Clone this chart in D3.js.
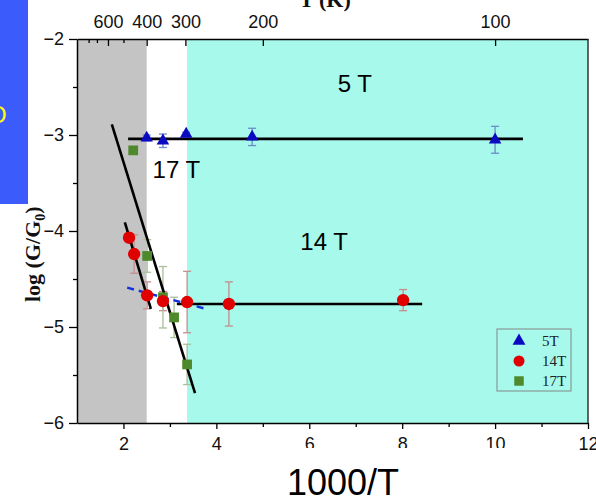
<!DOCTYPE html>
<html><head><meta charset="utf-8">
<script src="https://cdn.jsdelivr.net/npm/d3@7"></script>
<style>body{margin:0;background:#fff}svg{display:block}</style>
</head><body>
<svg id="c" width="596" height="498"></svg>
<script>
// ---- data ----
const xs5 = [2.50, 2.85, 3.35, 4.77, 10.0];
const ys5 = [-3.03, -3.06, -2.99, -3.02, -3.05];
const er5 = [0.03, 0.07, 0.02, 0.09, 0.14];

const xs14 = [2.12, 2.23, 2.51, 2.85, 3.37, 4.27, 8.02];
const ys14 = [-4.07, -4.24, -4.67, -4.73, -4.74, -4.76, -4.72];
const er14 = [0.05, 0.20, 0.14, 0.10, 0.32, 0.23, 0.11];

const xs17 = [2.21, 2.51, 2.85, 3.09, 3.37];
const ys17 = [-3.16, -4.26, -4.69, -4.90, -5.39];
const er17 = [0.0, 0.17, 0.32, 0.21, 0.21];

const fit5 = [[2.10, -3.04], [10.6, -3.04]];
const fit14a = [[2.03, -3.91], [2.59, -4.81]];
const fit14b = [[3.15, -4.76], [8.43, -4.76]];
const fit17 = [[1.75, -2.89], [3.54, -5.69]];
const fitDash = [[2.08, -4.59], [3.76, -4.81]];

const grayRegion = [1, 2.5];
const cyanRegion = [3.37, 12];

const xTicks = [2, 4, 6, 8, 10, 12];
const xMinor = [3, 5, 7, 9, 11];
const yTicks = [-2, -3, -4, -5, -6];
const yMinor = [-2.5, -3.5, -4.5, -5.5];
const topTempTicks = [600, 400, 300, 200, 100];
const topTempMinor = [800, 700, 500];

const labels = [{t: "5 T", x: 6.98, y: -2.55}, {t: "17 T", x: 3.14, y: -3.45}, {t: "14 T", x: 6.32, y: -4.2}];
const legendItems = ["5T", "14T", "17T"];

// ---- chart ----
const svg = d3.select("#c");
const x = d3.scaleLinear().domain([1, 12]).range([77, 588]);
const y = d3.scaleLinear().domain([-6, -2]).range([423, 39]);

// background regions
svg.append("rect").attr("x", x(grayRegion[0])).attr("y", y(-2))
  .attr("width", x(grayRegion[1]) - x(grayRegion[0])).attr("height", y(-6) - y(-2)).attr("fill", "#c4c4c4");
svg.append("rect").attr("x", x(cyanRegion[0])).attr("y", y(-2))
  .attr("width", x(cyanRegion[1]) - x(cyanRegion[0])).attr("height", y(-6) - y(-2)).attr("fill", "#a6f9eb");

const line = d3.line().x(d => x(d[0])).y(d => y(d[1]));

// error bars
function errBars(xsA, ysA, erA, color) {
  const g = svg.append("g").attr("stroke", color).attr("stroke-width", 1.3).attr("fill", "none");
  xsA.forEach((xv, i) => {
    const e = erA[i]; if (!e) return;
    const px = x(xv), t = y(ysA[i] + e), b = y(ysA[i] - e);
    g.append("line").attr("x1", px).attr("x2", px).attr("y1", t).attr("y2", b);
    g.append("line").attr("x1", px - 4).attr("x2", px + 4).attr("y1", t).attr("y2", t);
    g.append("line").attr("x1", px - 4).attr("x2", px + 4).attr("y1", b).attr("y2", b);
  });
}
errBars(xs14, ys14, er14, "#c48e8e");
errBars(xs17, ys17, er17, "#a9bf98");
errBars(xs5, ys5, er5, "#6a8cc8");

// fit lines
[fit5, fit14a, fit14b, fit17].forEach(f => {
  svg.append("path").attr("d", line(f)).attr("stroke", "#000").attr("stroke-width", 2.6).attr("fill", "none");
});
svg.append("path").attr("d", line(fitDash)).attr("stroke", "#1530e0").attr("stroke-width", 2.4)
  .attr("stroke-dasharray", "7,5").attr("fill", "none");

// markers
const tri = d3.symbol().type(d3.symbolTriangle).size(68);
const cir = d3.symbol().type(d3.symbolCircle).size(120);
const sq = d3.symbol().type(d3.symbolSquare).size(95);
xs17.forEach((xv, i) => svg.append("path").attr("d", sq()).attr("transform", `translate(${x(xv)},${y(ys17[i])})`).attr("fill", "#4e8a2c"));
xs14.forEach((xv, i) => svg.append("path").attr("d", cir()).attr("transform", `translate(${x(xv)},${y(ys14[i])})`).attr("fill", "#e00000"));
xs5.forEach((xv, i) => svg.append("path").attr("d", tri()).attr("transform", `translate(${x(xv)},${y(ys5[i])})`).attr("fill", "#0a0ac0"));

// axes
const fontTick = "Liberation Sans, Arial, sans-serif";
function styleAxis(g) {
  g.selectAll("path.domain").attr("stroke", "#000").attr("stroke-width", 1.5);
  g.selectAll(".tick line").attr("stroke", "#000").attr("stroke-width", 1.3);
  g.selectAll("text").attr("font-family", fontTick).attr("font-size", 18).attr("fill", "#111");
}
const gB = svg.append("g").attr("transform", `translate(0,${y(-6)})`)
  .call(d3.axisBottom(x).tickValues(xTicks).tickSizeInner(6).tickSizeOuter(0).tickPadding(8).tickFormat(d3.format("d")));
styleAxis(gB);
const gBm = svg.append("g").attr("transform", `translate(0,${y(-6)})`)
  .call(d3.axisBottom(x).tickValues(xMinor).tickSize(4).tickFormat(""));
styleAxis(gBm); gBm.select(".domain").remove();

const gL = svg.append("g").attr("transform", `translate(${x(1)},0)`)
  .call(d3.axisLeft(y).tickValues(yTicks).tickSizeInner(8).tickSizeOuter(0).tickPadding(5).tickFormat(d3.format("d")));
styleAxis(gL);
const gLm = svg.append("g").attr("transform", `translate(${x(1)},0)`)
  .call(d3.axisLeft(y).tickValues(yMinor).tickSize(4).tickFormat(""));
styleAxis(gLm); gLm.select(".domain").remove();

const gT = svg.append("g").attr("transform", `translate(0,${y(-2)})`)
  .call(d3.axisTop(x).tickValues(topTempTicks.map(t => 1000 / t)).tickSizeInner(-7).tickSizeOuter(0).tickPadding(11)
    .tickFormat((d, i) => topTempTicks[i]));
styleAxis(gT);
const gTm = svg.append("g").attr("transform", `translate(0,${y(-2)})`)
  .call(d3.axisTop(x).tickValues(topTempMinor.map(t => 1000 / t)).tickSize(-4).tickFormat(""));
styleAxis(gTm); gTm.select(".domain").remove();

svg.append("line").attr("x1", x(12)).attr("x2", x(12)).attr("y1", y(-2)).attr("y2", y(-6))
  .attr("stroke", "#333").attr("stroke-width", 1.5);

// annotations
labels.forEach(l => svg.append("text").attr("x", x(l.x)).attr("y", y(l.y)).attr("text-anchor", "middle")
  .attr("font-family", fontTick).attr("font-size", 24).attr("fill", "#000").text(l.t));

// legend
const lg = svg.append("g").attr("transform", "translate(497,329)");
lg.append("rect").attr("width", 74).attr("height", 62).attr("fill", "none").attr("stroke", "#8a9a9a").attr("stroke-width", 1.2);
const lsym = [
  {p: d3.symbol().type(d3.symbolTriangle).size(72)(), c: "#0a0ac0"},
  {p: d3.symbol().type(d3.symbolCircle).size(95)(), c: "#e00000"},
  {p: d3.symbol().type(d3.symbolSquare).size(90)(), c: "#4e8a2c"}
];
legendItems.forEach((t, i) => {
  lg.append("path").attr("d", lsym[i].p).attr("fill", lsym[i].c).attr("transform", `translate(22,${12 + i * 20})`);
  lg.append("text").attr("x", 45).attr("y", 17 + i * 20).attr("font-family", "Liberation Serif, Times New Roman, serif")
    .attr("font-size", 15).attr("fill", "#222").text(t);
});

// y axis title
const yt = svg.append("text").attr("transform", "translate(40,302) rotate(-90)")
  .attr("font-family", "Liberation Serif, Times New Roman, serif").attr("font-weight", "bold").attr("font-size", 22).attr("fill", "#111");
yt.append("tspan").text("log (G/G");
yt.append("tspan").attr("font-size", 14).attr("dy", 5).text("0");
yt.append("tspan").attr("dy", -5).text(")");

// top axis title (cut off at the top edge, as in the source image)
svg.append("text").attr("x", 325).attr("y", 7).attr("text-anchor", "middle")
  .attr("font-family", "Liberation Serif, Times New Roman, serif").attr("font-weight", "bold").attr("font-size", 22).attr("fill", "#111").text("T (K)");

// overlay blue box
svg.append("rect").attr("x", 0).attr("y", 0).attr("width", 28).attr("height", 204).attr("fill", "#3b5cfb");
svg.append("text").attr("x", -12).attr("y", 123).attr("font-family", fontTick).attr("font-size", 24)
  .attr("fill", "#ffff00").text("O");

// white box with x title
svg.append("rect").attr("x", 250).attr("y", 448).attr("width", 295).attr("height", 50).attr("fill", "#fff");
svg.append("text").attr("x", 343).attr("y", 495).attr("text-anchor", "middle")
  .attr("font-family", fontTick).attr("font-size", 36).attr("fill", "#000").text("1000/T");
</script>
</body></html>
